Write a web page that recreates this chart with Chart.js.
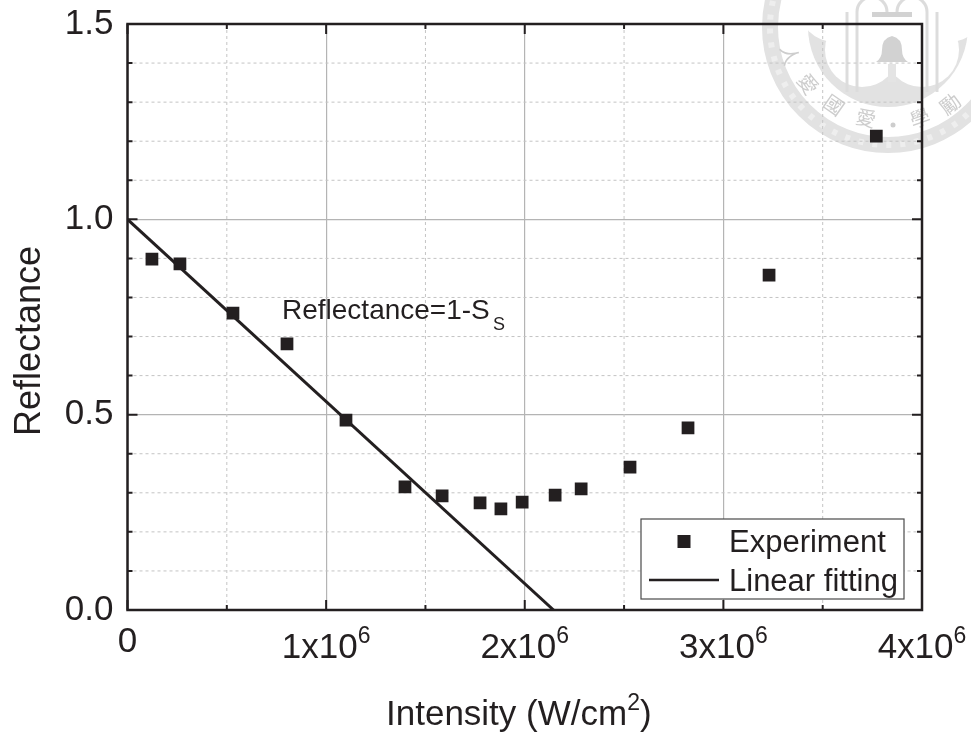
<!DOCTYPE html>
<html>
<head>
<meta charset="utf-8">
<title>Reflectance vs intensity</title>
<script src="https://cdn.jsdelivr.net/npm/chart.js@4"></script>
<style>
  html, body { margin: 0; background: #fff; }
  canvas { display: block; }
</style>
</head>
<body>
<canvas id="chart" width="971" height="734"></canvas>
<script>
const intensity = [0.123e6, 0.264e6, 0.531e6, 0.803e6, 1.10e6, 1.397e6, 1.584e6, 1.775e6, 1.88e6, 1.987e6, 2.153e6, 2.284e6, 2.53e6, 2.822e6, 3.23e6, 3.77e6];
const reflectance = [0.898, 0.886, 0.760, 0.681, 0.486, 0.315, 0.292, 0.274, 0.259, 0.276, 0.294, 0.310, 0.366, 0.466, 0.857, 1.213];
const fitX = [0, 2.145e6];
const fitY = [1, 0];

const xMajorTicks = [0, 1e6, 2e6, 3e6, 4e6];
const xMinorTicks = [0.5e6, 1.5e6, 2.5e6, 3.5e6];
const yMajorTicks = [0, 0.5, 1, 1.5];
const yMinorTicks = [0.1, 0.2, 0.3, 0.4, 0.6, 0.7, 0.8, 0.9, 1.1, 1.2, 1.3, 1.4];
const xTickLabels = ["0", "1x10", "2x10", "3x10", "4x10"];
const xTickExponent = "6";
const sealChars = [["人", 790, 55], ["愛", 808, 84], ["國", 834, 105], ["愛", 866, 118], ["學", 920, 118], ["勵", 950, 104]];

const INK = "#231f20";
const SEAL = "#e2e2e2";
const FONT = '"Liberation Sans", Arial, sans-serif';

function textWithSup(ctx, text, sup, x, y, size, supSize, lift, centered) {
  ctx.font = `${size}px ${FONT}`;
  const w = ctx.measureText(text).width;
  ctx.font = `${supSize}px ${FONT}`;
  const sw = sup ? ctx.measureText(sup).width : 0;
  const left = centered ? x - (w + sw) / 2 : x;
  ctx.textAlign = "left";
  ctx.textBaseline = "alphabetic";
  ctx.font = `${size}px ${FONT}`;
  ctx.fillText(text, left, y);
  if (sup) {
    ctx.font = `${supSize}px ${FONT}`;
    ctx.fillText(sup, left + w, y - lift);
  }
  return left + w + sw;
}

// faint university seal behind the plot
const sealPlugin = {
  id: "seal",
  beforeDraw(chart) {
    const ctx = chart.ctx;
    const cx = 888, cy = 27;
    ctx.save();
    ctx.fillStyle = "#fff";
    ctx.fillRect(0, 0, chart.width, chart.height);

    // outer ring with its swirl pattern
    ctx.strokeStyle = SEAL;
    ctx.lineWidth = 16;
    ctx.beginPath();
    ctx.arc(cx, cy, 118, 0, Math.PI * 2);
    ctx.stroke();
    ctx.strokeStyle = "#eeeeee";
    ctx.lineWidth = 6;
    ctx.setLineDash([5, 9]);
    ctx.beginPath();
    ctx.arc(cx, cy, 118, 0, Math.PI * 2);
    ctx.stroke();
    ctx.setLineDash([]);

    // grey disc with the white blossom cut out of it
    ctx.fillStyle = "#e2e2e2";
    ctx.beginPath();
    ctx.arc(cx, cy, 80, 0, Math.PI * 2);
    ctx.fill();
    ctx.fillStyle = "#fff";
    [[-26, 23], [34, 23], [-53, -22], [61, -22], [4, -30]].forEach(([dx, dy]) => {
      ctx.beginPath();
      ctx.arc(cx + dx, cy + dy, 37, 0, Math.PI * 2);
      ctx.fill();
    });

    // columns, arches and bell
    ctx.strokeStyle = "#dcdcdc";
    ctx.lineWidth = 3;
    [847, 857, 927, 937].forEach((x) => {
      ctx.beginPath(); ctx.moveTo(x, 12); ctx.lineTo(x, 92); ctx.stroke();
    });
    ctx.beginPath(); ctx.arc(872, 12, 15, Math.PI, 0); ctx.stroke();
    ctx.beginPath(); ctx.arc(912, 12, 15, Math.PI, 0); ctx.stroke();
    ctx.fillStyle = "#d2d2d2";
    ctx.fillRect(872, 12, 40, 5);
    ctx.beginPath();
    ctx.moveTo(892, 36);
    ctx.quadraticCurveTo(882, 38, 882, 50);
    ctx.quadraticCurveTo(882, 58, 876, 62);
    ctx.lineTo(908, 62);
    ctx.quadraticCurveTo(902, 58, 902, 50);
    ctx.quadraticCurveTo(902, 38, 892, 36);
    ctx.fill();
    ctx.fillStyle = "#e4e4e4";
    ctx.fillRect(888, 64, 8, 18);

    // motto round the ring
    ctx.fillStyle = "#cdcdcd";
    ctx.font = '20px "Noto Sans CJK TC"';
    ctx.textAlign = "center";
    ctx.textBaseline = "middle";
    sealChars.forEach(([ch, x, y]) => {
      ctx.save();
      ctx.translate(x, y);
      ctx.rotate(Math.atan2(cx - x, y - cy));
      ctx.fillText(ch, 0, 0);
      ctx.restore();
    });
    ctx.beginPath();
    ctx.arc(893, 125, 2.5, 0, Math.PI * 2);
    ctx.fill();
    ctx.restore();
  }
};

const framePlugin = {
  id: "frame",
  beforeDatasetsDraw(chart) {
    // dashed minor grid
    const { ctx, chartArea: a, scales: { x, y } } = chart;
    ctx.save();
    ctx.strokeStyle = "#c4c4c4";
    ctx.lineWidth = 1;
    ctx.setLineDash([3, 3]);
    xMinorTicks.forEach((v) => {
      const p = x.getPixelForValue(v);
      ctx.beginPath(); ctx.moveTo(p, a.top); ctx.lineTo(p, a.bottom); ctx.stroke();
    });
    yMinorTicks.forEach((v) => {
      const p = y.getPixelForValue(v);
      ctx.beginPath(); ctx.moveTo(a.left, p); ctx.lineTo(a.right, p); ctx.stroke();
    });
    ctx.restore();
  },
  afterDraw(chart) {
    const { ctx, chartArea: a, scales: { x, y } } = chart;
    ctx.save();
    ctx.strokeStyle = INK;
    ctx.lineWidth = 2.5;
    ctx.strokeRect(a.left, a.top, a.right - a.left, a.bottom - a.top);

    const hTick = (v, len) => {
      const p = x.getPixelForValue(v);
      ctx.beginPath();
      ctx.moveTo(p, a.bottom); ctx.lineTo(p, a.bottom - len);
      ctx.moveTo(p, a.top); ctx.lineTo(p, a.top + len);
      ctx.stroke();
    };
    const vTick = (v, len) => {
      const p = y.getPixelForValue(v);
      ctx.beginPath();
      ctx.moveTo(a.left, p); ctx.lineTo(a.left + len, p);
      ctx.moveTo(a.right, p); ctx.lineTo(a.right - len, p);
      ctx.stroke();
    };
    ctx.lineWidth = 2;
    xMajorTicks.forEach((v) => hTick(v, 10));
    xMinorTicks.forEach((v) => hTick(v, 5));
    yMajorTicks.forEach((v) => vTick(v, 10));
    yMinorTicks.forEach((v) => vTick(v, 5));

    // x tick labels, the exponent needs a raised run so they are drawn here
    ctx.fillStyle = INK;
    xMajorTicks.forEach((v, i) => {
      const sup = i === 0 ? "" : xTickExponent;
      const base = i === 0 ? 652 : 658;
      textWithSup(ctx, xTickLabels[i], sup, x.getPixelForValue(v), base, 35, 23, 15, true);
    });

    // axis titles
    const end = textWithSup(ctx, "Intensity (W/cm", "2", 386, 725, 35, 23, 15, false);
    ctx.font = `35px ${FONT}`;
    ctx.fillText(")", end, 725);

    ctx.save();
    ctx.translate(40, 436);
    ctx.rotate(-Math.PI / 2);
    ctx.font = `36px ${FONT}`;
    ctx.fillText("Reflectance", 0, 0);
    ctx.restore();

    // annotation
    ctx.font = `28px ${FONT}`;
    ctx.fillText("Reflectance=1-S", 282, 319);
    ctx.font = `18px ${FONT}`;
    ctx.fillText("S", 493, 330);

    // legend
    ctx.fillStyle = "#fff";
    ctx.fillRect(641, 519, 263, 80);
    ctx.strokeStyle = "#4a4a4a";
    ctx.lineWidth = 1.2;
    ctx.strokeRect(641, 519, 263, 80);
    ctx.fillStyle = INK;
    ctx.fillRect(677.5, 535, 13, 13);
    ctx.strokeStyle = INK;
    ctx.lineWidth = 2.5;
    ctx.beginPath(); ctx.moveTo(649, 580); ctx.lineTo(719, 580); ctx.stroke();
    ctx.font = `31px ${FONT}`;
    ctx.textAlign = "left";
    ctx.textBaseline = "alphabetic";
    ctx.fillText(chart.data.datasets[0].label, 729, 552);
    ctx.fillText(chart.data.datasets[1].label, 729, 591);
    ctx.restore();
  }
};

new Chart(document.getElementById("chart"), {
  type: "scatter",
  data: {
    datasets: [
      {
        label: "Experiment",
        data: intensity.map((v, i) => ({ x: v, y: reflectance[i] })),
        pointStyle: "rect",
        pointRadius: 9,
        pointBorderWidth: 0,
        backgroundColor: INK,
        showLine: false
      },
      {
        label: "Linear fitting",
        data: fitX.map((v, i) => ({ x: v, y: fitY[i] })),
        showLine: true,
        pointRadius: 0,
        borderColor: INK,
        borderWidth: 3
      }
    ]
  },
  options: {
    responsive: false,
    animation: false,
    layout: { padding: { top: 24, right: 49, left: 0, bottom: 0 } },
    plugins: { legend: { display: false }, tooltip: { enabled: false } },
    scales: {
      x: {
        type: "linear",
        min: 0,
        max: 4e6,
        ticks: { stepSize: 1e6, display: false },
        grid: { color: "#b4b4b4", lineWidth: 1.2, drawTicks: false },
        border: { display: false },
        afterFit(scale) { scale.height = 124; }
      },
      y: {
        min: 0,
        max: 1.5,
        ticks: {
          stepSize: 0.5,
          color: INK,
          padding: 14,
          font: { family: FONT, size: 35 },
          callback: (v) => v.toFixed(1)
        },
        grid: { color: "#b4b4b4", lineWidth: 1.2, drawTicks: false },
        border: { display: false },
        afterFit(scale) {
          scale.width = 127.5;
          scale.paddingTop = 0;
          scale.paddingBottom = 0;
        }
      }
    }
  },
  plugins: [sealPlugin, framePlugin]
});
</script>
</body>
</html>
